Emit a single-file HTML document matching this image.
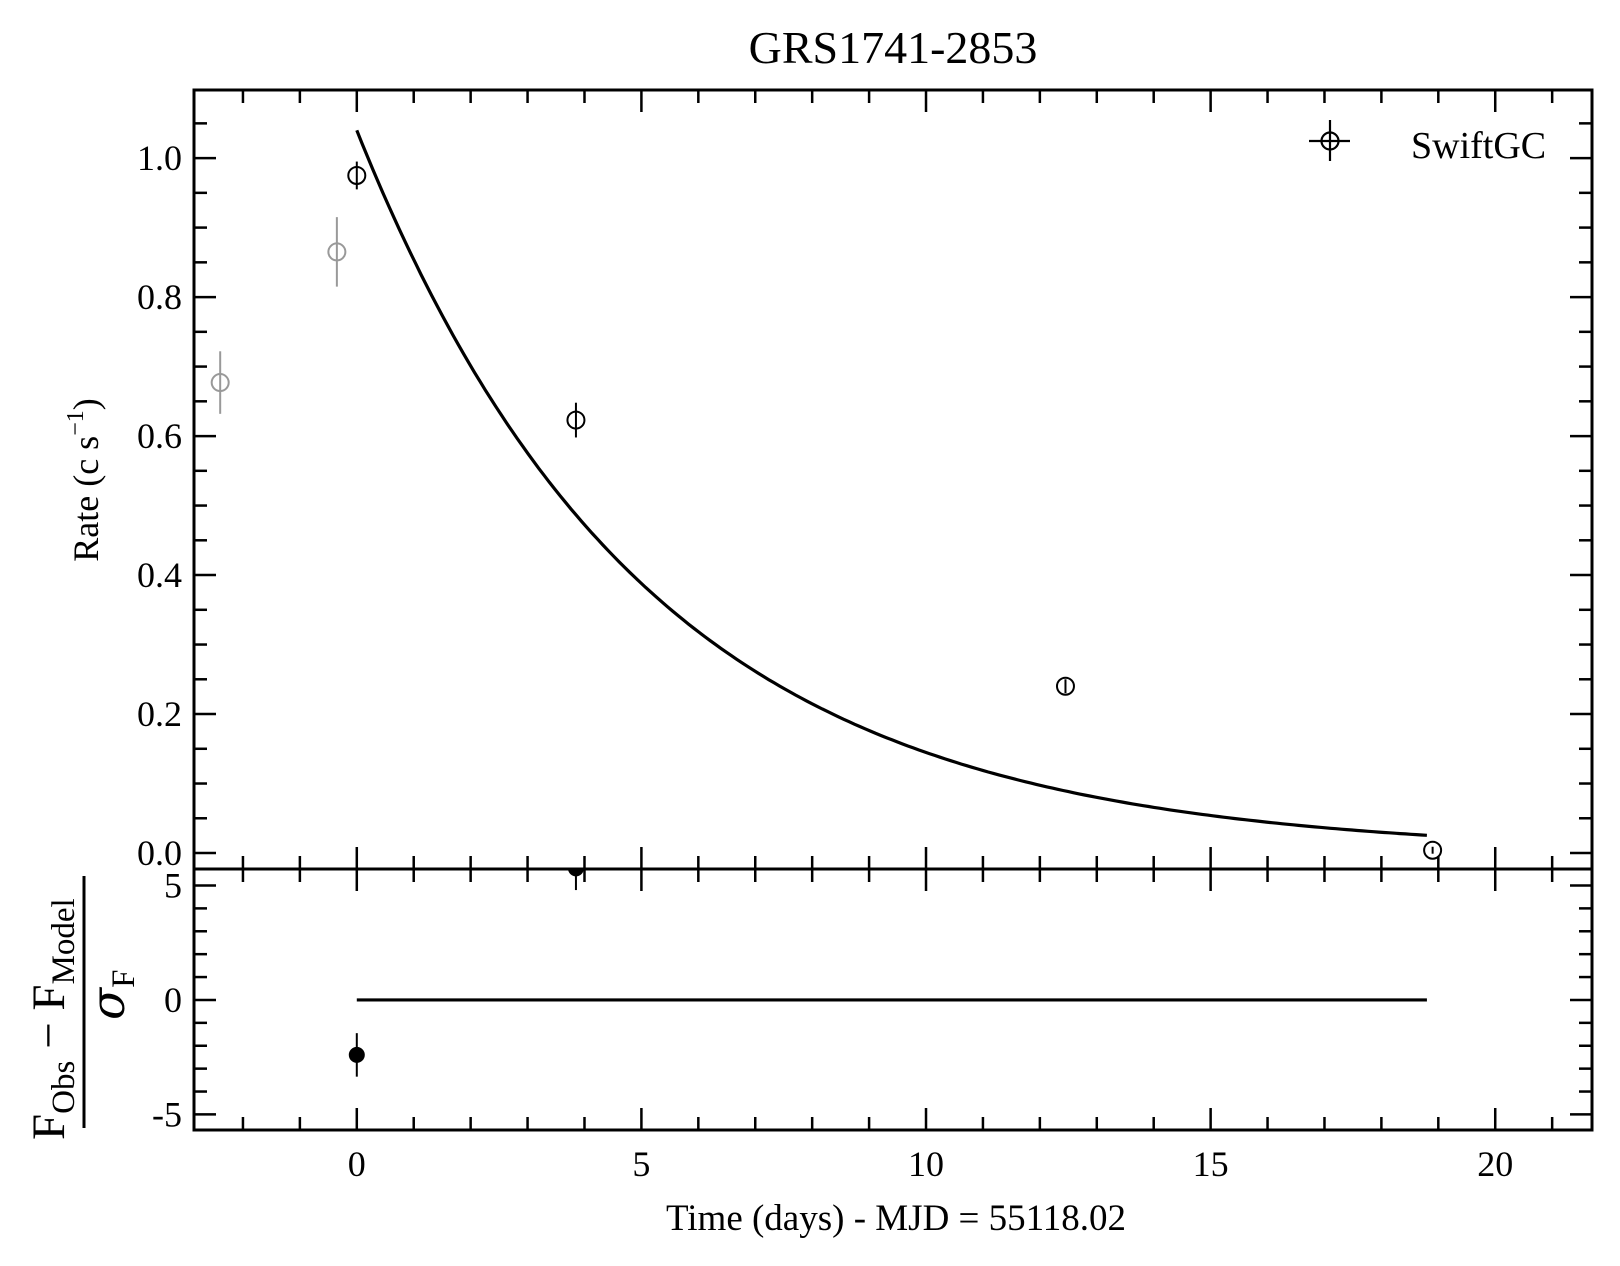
<!DOCTYPE html>
<html><head><meta charset="utf-8"><style>
html,body{margin:0;padding:0;background:#fff;}
svg{display:block;font-family:"Liberation Serif",serif;}
</style></head><body>
<svg id="chart" width="1620" height="1266" viewBox="0 0 1620 1266" xmlns="http://www.w3.org/2000/svg">
<text x="893" y="63" font-size="46" text-anchor="middle">GRS1741-2853</text>
<g id="topPanel"></g>
<g id="botPanel"></g>
<text transform="translate(98,480) rotate(-90)" font-size="36" text-anchor="middle">Rate (c s<tspan dy="-15" font-size="24">−1</tspan><tspan dy="15">)</tspan></text>
<g>
<text transform="translate(64,1140) rotate(-90)" font-size="47">F<tspan dy="10" font-size="33">Obs</tspan><tspan dy="-10"> − F</tspan><tspan dy="10" font-size="33">Model</tspan></text>
<line x1="84" y1="876" x2="84" y2="1128" stroke="#000" stroke-width="3"/>
<text transform="translate(124,1020) rotate(-90)" font-size="47" font-style="italic" font-family="DejaVu Serif, serif">σ<tspan dy="10" font-size="33" font-style="normal" font-family="Liberation Serif, serif">F</tspan></text>
</g>
<text x="896" y="1230" font-size="37" text-anchor="middle">Time (days) - MJD = 55118.02</text>
<g>
<line x1="1309" y1="141" x2="1350" y2="141" stroke="#000" stroke-width="2.2"/>
<line x1="1330" y1="120" x2="1330" y2="161" stroke="#000" stroke-width="2.2"/>
<circle cx="1330" cy="141" r="8.5" fill="none" stroke="#000" stroke-width="2.2"/>
<text x="1411" y="158" font-size="38">SwiftGC</text>
</g>
</svg>
<script>
// Data
const obsTimes = [-2.4, -0.35, 0, 3.85, 12.45, 18.9];
const obsRates = [0.677, 0.865, 0.975, 0.623, 0.24, 0.004];
const obsErrs = [0.045, 0.05, 0.02, 0.025, 0.01, 0.005];
const obsExcluded = [true, true, false, false, false, false];
const resTimes = [0, 3.85];
const resValues = [-2.4, 5.75];
const resErrs = [0.95, 0.95];
const modelAmp = 1.04;
const modelTau = 5.07;
const modelStart = 0;
const modelEnd = 18.8;
const xTickLabels = ["0", "5", "10", "15", "20"];
const yTickLabels = ["0.0", "0.2", "0.4", "0.6", "0.8", "1.0"];
const rTickLabels = ["-5", "0", "5"];

(function () {
const NS = "http://www.w3.org/2000/svg";
const L = 194, R = 1592, T = 90, M = 869, B = 1130;
const xMin = -2.86, xMax = 21.7;
const yMin = -0.023, yMax = 1.098;
const rMin = -5.68, rMax = 5.72;
const sx = v => L + (v - xMin) / (xMax - xMin) * (R - L);
const sy = v => M - (v - yMin) / (yMax - yMin) * (M - T);
const sr = v => B - (v - rMin) / (rMax - rMin) * (B - M);

function mk(parent, tag, attrs) {
  const e = document.createElementNS(NS, tag);
  for (const k in attrs) e.setAttribute(k, attrs[k]);
  parent.appendChild(e);
  return e;
}
const topG = document.getElementById("topPanel");
const botG = document.getElementById("botPanel");

function ticksX(g, y0, y1) {
  for (let v = Math.ceil(xMin); v <= xMax; v++) {
    const major = v % 5 === 0;
    const len = major ? 22 : 13;
    const x = sx(v);
    let t = mk(g, "line", {x1: x, y1: y0, x2: x, y2: y0 - len, stroke: "#000", "stroke-width": 2.5});
    
    
    t = mk(g, "line", {x1: x, y1: y1, x2: x, y2: y1 + len, stroke: "#000", "stroke-width": 2.5});
    
    
  }
}
for (let i = 0; i <= 22; i++) {
  const v = i * 0.05;
  if (v < yMin || v > yMax) continue;
  const major = i % 4 === 0;
  const len = major ? 22 : 13;
  const y = sy(v);
  let t = mk(topG, "line", {x1: L, y1: y, x2: L + len, y2: y, stroke: "#000", "stroke-width": 2.5});
  
  
  t = mk(topG, "line", {x1: R, y1: y, x2: R - len, y2: y, stroke: "#000", "stroke-width": 2.5});
  
  
}
yTickLabels.forEach((lab, i) => {
  const t = mk(topG, "text", {x: L - 12, y: sy(i * 0.2) + 12, "font-size": 36, "text-anchor": "end"});
  t.textContent = lab;
  
  
});
ticksX(topG, M, T);
for (let v = -5; v <= 5; v++) {
  const major = v % 5 === 0;
  const len = major ? 22 : 13;
  const y = sr(v);
  let t = mk(botG, "line", {x1: L, y1: y, x2: L + len, y2: y, stroke: "#000", "stroke-width": 2.5});
  
  
  t = mk(botG, "line", {x1: R, y1: y, x2: R - len, y2: y, stroke: "#000", "stroke-width": 2.5});
  
  
}
rTickLabels.forEach((lab, i) => {
  const t = mk(botG, "text", {x: L - 12, y: sr(-5 + i * 5) + 12, "font-size": 36, "text-anchor": "end"});
  t.textContent = lab;
  
  
});
ticksX(botG, B, M);
xTickLabels.forEach((lab, i) => {
  const t = mk(botG, "text", {x: sx(i * 5), y: B + 46, "font-size": 36, "text-anchor": "middle"});
  t.textContent = lab;
  
  
});
let pts = [];
for (let i = 0; i <= 200; i++) {
  const t = modelStart + (modelEnd - modelStart) * i / 200;
  pts.push(sx(t).toFixed(1) + "," + sy(modelAmp * Math.exp(-t / modelTau)).toFixed(1));
}
const curve = mk(topG, "polyline", {points: pts.join(" "), fill: "none", stroke: "#000", "stroke-width": 3.2});


obsTimes.forEach((t, i) => {
  const col = obsExcluded[i] ? "#999" : "#000";
  const g = mk(topG, "g", {});
  
  
  mk(g, "line", {x1: sx(t), x2: sx(t), y1: sy(obsRates[i] - obsErrs[i]), y2: sy(obsRates[i] + obsErrs[i]), stroke: col, "stroke-width": 2});
  mk(g, "circle", {cx: sx(t), cy: sy(obsRates[i]), r: 8.5, fill: "none", stroke: col, "stroke-width": 2});
});
const zl = mk(botG, "line", {x1: sx(modelStart), x2: sx(modelEnd), y1: sr(0), y2: sr(0), stroke: "#000", "stroke-width": 3.2});


const defs = mk(document.getElementById("chart"), "defs", {});
const cp = mk(defs, "clipPath", {id: "rc"});
mk(cp, "rect", {x: L, y: M, width: R - L, height: B - M});
const rg = mk(botG, "g", {"clip-path": "url(#rc)"});


resTimes.forEach((t, i) => {
  const g = mk(rg, "g", {});
  
  
  mk(g, "line", {x1: sx(t), x2: sx(t), y1: sr(resValues[i] - resErrs[i]), y2: sr(resValues[i] + resErrs[i]), stroke: "#000", "stroke-width": 2});
  mk(g, "circle", {cx: sx(t), cy: sr(resValues[i]), r: 8, fill: "#000"});
});
let f = mk(topG, "rect", {x: L, y: T, width: R - L, height: M - T, fill: "none", stroke: "#000", "stroke-width": 3});


f = mk(botG, "rect", {x: L, y: M, width: R - L, height: B - M, fill: "none", stroke: "#000", "stroke-width": 3});


})();
</script>
</body></html>
